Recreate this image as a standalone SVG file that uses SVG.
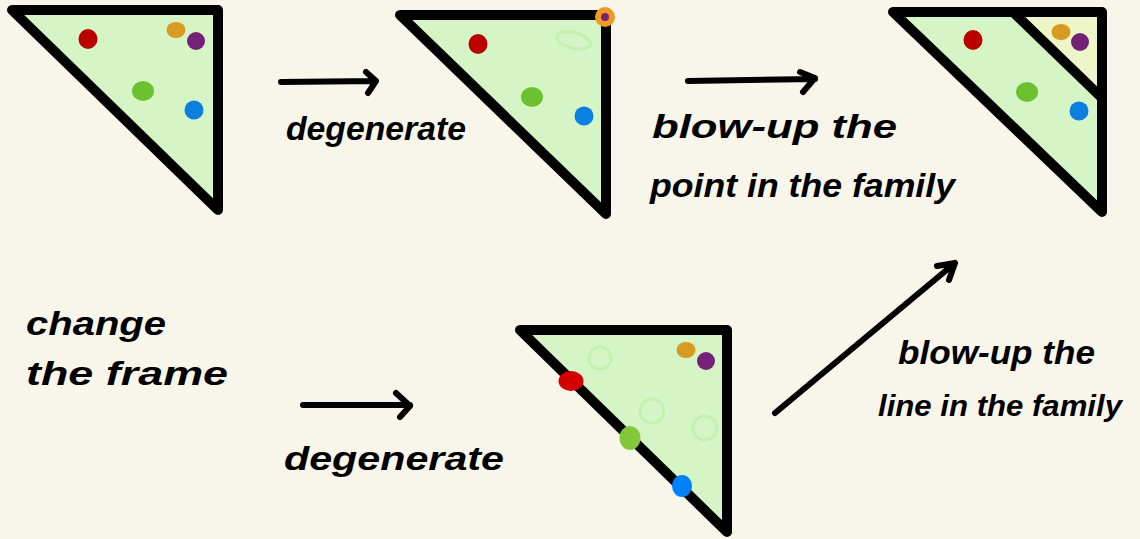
<svg xmlns="http://www.w3.org/2000/svg" width="1140" height="539" viewBox="0 0 1140 539">
<style>
.tri{fill:#d6f5c7;stroke:#000;stroke-width:10;stroke-linejoin:round;stroke-linecap:round}
.edge{fill:none;stroke:#000;stroke-width:10;stroke-linecap:round}
.arr{fill:none;stroke:#000;stroke-width:6;stroke-linecap:round;stroke-linejoin:round}
.lbl{font-family:"Liberation Sans","DejaVu Sans",sans-serif;font-weight:bold;font-style:italic;font-size:34px;fill:#000}
.ghost{fill:none;stroke:#bdf0ad;stroke-width:3;opacity:0.8}
.red{fill:#bb0000}.org{fill:#d89a20}.pur{fill:#762178}.grn{fill:#6cc22e}.blu{fill:#0a7fe0}
</style>
<rect width="1140" height="539" fill="#f8f6ea"/>

<g id="tri1">
<polygon class="tri" points="12,10 218,10 218,210"/>
<ellipse class="red" cx="88" cy="39" rx="9.5" ry="10"/>
<ellipse class="org" cx="176" cy="30" rx="9.5" ry="8"/>
<circle class="pur" cx="196" cy="41" r="9"/>
<ellipse class="grn" cx="143" cy="91" rx="11" ry="10"/>
<circle class="blu" cx="194" cy="110" r="9.5"/>
</g>

<g id="tri2">
<polygon class="tri" points="400,15 606,15 606,214"/>
<path class="ghost" d="M560,33 C570,28 585,35 590,42 C595,48 578,52 566,46 C556,42 555,36 560,33 Z"/>
<ellipse class="red" cx="478" cy="44" rx="9.5" ry="10"/>
<ellipse class="grn" cx="532" cy="97" rx="11" ry="10"/>
<circle class="blu" cx="584" cy="116" r="9.5"/>
<circle cx="605" cy="17" r="10" fill="#f09a22"/>
<circle class="pur" cx="605" cy="17" r="4"/>
</g>

<g id="tri3">
<polygon points="893,12 1102,12 1102,212" fill="#d6f5c7"/>
<polygon points="1013,12 1102,12 1102,98" fill="#eef6c8"/>
<polygon points="893,12 1102,12 1102,212" fill="none" stroke="#000" stroke-width="10" stroke-linejoin="round"/>
<line class="edge" x1="1013" y1="12" x2="1102" y2="98"/>
<ellipse class="red" cx="973" cy="40" rx="9.5" ry="10"/>
<ellipse class="org" cx="1061" cy="32" rx="9.5" ry="8"/>
<circle class="pur" cx="1080" cy="42" r="9"/>
<ellipse class="grn" cx="1027" cy="92" rx="11" ry="10"/>
<circle class="blu" cx="1079" cy="111" r="9.5"/>
</g>

<g id="tri4">
<polygon class="tri" points="520,330 727,330 727,532"/>
<circle class="ghost" cx="600" cy="358" r="11"/>
<circle class="ghost" cx="652" cy="411" r="12"/>
<circle class="ghost" cx="705" cy="428" r="12"/>
<ellipse class="org" cx="686" cy="350" rx="9.5" ry="8"/>
<circle class="pur" cx="706" cy="361" r="9"/>
<ellipse cx="571" cy="381" rx="12.5" ry="10" fill="#d40000"/>
<ellipse cx="630" cy="438" rx="10.5" ry="12" fill="#82c83a"/>
<ellipse cx="682" cy="486" rx="10" ry="11" fill="#0082ff"/>
</g>

<g id="connectors">
<path class="arr" d="M281,82 L376,81 M366,72 L376,81 L368,93"/>
<path class="arr" d="M688,81 L815,79 M800,72 L815,78 L803,92"/>
<path class="arr" d="M303,405 L410,405 M396,393 L410,406 L400,417"/>
<path class="arr" d="M775,413 L955,263 M937,266 L955,263 L949,280"/>
</g>

<g id="labels">
<text class="lbl" x="286" y="140" textLength="180" lengthAdjust="spacingAndGlyphs">degenerate</text>
<text class="lbl" x="652" y="138" textLength="245" lengthAdjust="spacingAndGlyphs">blow-up the</text>
<text class="lbl" x="650" y="197" textLength="305" lengthAdjust="spacingAndGlyphs">point in the family</text>
<text class="lbl" x="26" y="335" textLength="140" lengthAdjust="spacingAndGlyphs">change</text>
<text class="lbl" x="26" y="385" textLength="202" lengthAdjust="spacingAndGlyphs">the frame</text>
<text class="lbl" x="284" y="470" textLength="220" lengthAdjust="spacingAndGlyphs">degenerate</text>
<text class="lbl" x="898" y="364" textLength="197" lengthAdjust="spacingAndGlyphs">blow-up the</text>
<text class="lbl" x="878" y="416" style="font-size:29px" textLength="244" lengthAdjust="spacingAndGlyphs">line in the family</text>
</g>
</svg>
